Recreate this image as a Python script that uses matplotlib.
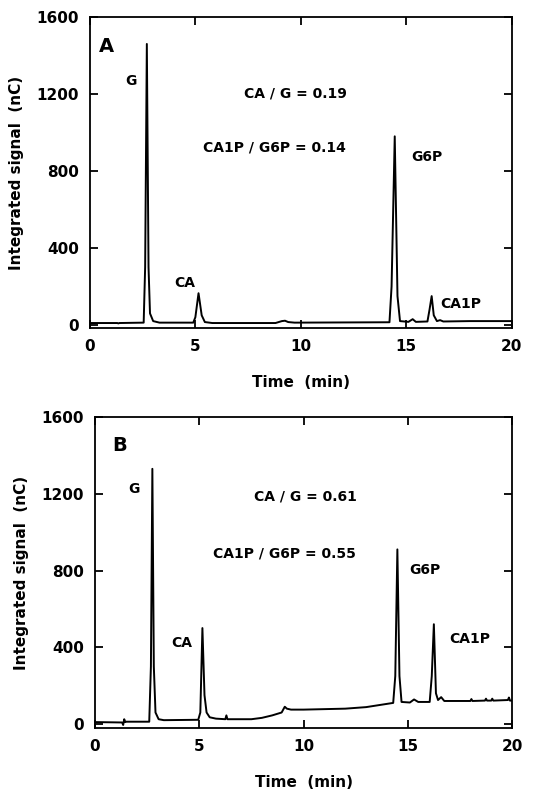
import matplotlib
matplotlib.use("Agg")
import matplotlib.pyplot as plt

# ---- Panel A trace (time in min, signal in nC) ----
time_a = [0, 1.3, 1.35, 1.4, 2.55, 2.62, 2.7, 2.78, 2.85, 3.0, 3.3, 4.9, 5.0, 5.15, 5.3, 5.45, 5.8,
          8.8, 9.1, 9.25, 9.4, 9.7, 14.2, 14.3, 14.45, 14.58, 14.7, 15.1, 15.3, 15.45, 16.0, 16.1,
          16.2, 16.3, 16.45, 16.6, 16.75, 18, 20]
signal_a = [10, 10, 8, 10, 12, 300, 1460, 300, 60, 20, 12, 12, 40, 165, 50, 15, 10,
            10, 20, 22, 15, 12, 14, 200, 980, 150, 20, 16, 30, 16, 18, 80,
            150, 50, 20, 25, 18, 20, 20]

# ---- Panel B trace ----
time_b = [0, 1.3, 1.35, 1.4, 1.45, 1.5, 2.6, 2.68, 2.75, 2.82, 2.9, 3.05, 3.3, 4.95, 5.05, 5.15, 5.25,
          5.35, 5.5, 5.8, 6.25, 6.3, 6.35, 7.5, 8.0, 8.5, 8.95, 9.1, 9.2, 9.4, 10, 12, 13, 14.3, 14.4,
          14.5, 14.6, 14.7, 15.1, 15.3, 15.5, 16.05, 16.15, 16.25, 16.35, 16.45, 16.6, 16.75, 18,
          18.05, 18.1, 18.7, 18.75, 18.8, 19, 19.05, 19.1, 19.8, 19.85, 19.9, 20]
signal_b = [10, 8, -5, 25, 10, 12, 12, 300, 1330, 300, 60, 25, 20, 22, 60, 500, 150,
            60, 35, 28, 25, 45, 25, 25, 32, 45, 60, 90, 80, 75, 75, 80, 88, 110, 250,
            910, 250, 115, 112, 128, 115, 115, 250, 520, 160, 125, 140, 120, 120,
            130, 120, 122, 132, 122, 122, 132, 122, 125, 138, 122, 122]

x_ticks = [0, 5, 10, 15, 20]
y_ticks = [0, 400, 800, 1200, 1600]

labels_a = [("A", 0.45, 1445), ("G", 1.95, 1268), ("CA / G = 0.19", 9.76, 1205),
            ("CA1P / G6P = 0.14", 8.77, 920), ("G6P", 15.97, 873), ("CA", 4.5, 218),
            ("CA1P", 17.6, 109)]
labels_b = [("B", 0.85, 1454), ("G", 1.87, 1225), ("CA / G = 0.61", 10.07, 1188),
            ("CA1P / G6P = 0.55", 9.1, 891), ("G6P", 15.8, 802), ("CA", 4.14, 422),
            ("CA1P", 17.95, 443)]

plt.rcParams['font.family'] = ['DejaVu Sans']
plt.rcParams['font.weight'] = 'bold'

fig = plt.figure(figsize=(5.48, 7.91), dpi=100)
ax_a = fig.add_axes([0.164, 0.5853, 0.770, 0.3932])
ax_b = fig.add_axes([0.1734, 0.0796, 0.761, 0.3932])

for ax, t, s, labels, ybot in [(ax_a, time_a, signal_a, labels_a, -16),
                               (ax_b, time_b, signal_b, labels_b, -21)]:
    ax.plot(t, s, color='black', lw=1.4, solid_joinstyle='round')
    ax.set_xlim(0, 20)
    ax.set_ylim(ybot, 1600)
    ax.set_xticks(x_ticks)
    ax.set_yticks(y_ticks)
    ax.tick_params(direction='in', length=6, width=1.3, top=True, right=True,
                   labelsize=11, pad=8)
    for lab in ax.get_xticklabels() + ax.get_yticklabels():
        lab.set_fontweight('bold')
    for sp in ax.spines.values():
        sp.set_linewidth(1.3)
    ax.set_xlabel("Time  (min)", fontsize=11, fontweight='bold', labelpad=15)
    ax.set_ylabel("Integrated signal  (nC)", fontsize=11, fontweight='bold', labelpad=9)
    for txt, x, y in labels:
        if txt in ("A", "B"):
            ax.text(x, y, txt, fontsize=14, fontweight='bold', ha='left', va='center')
        else:
            ax.text(x, y, txt, fontsize=10, fontweight='bold', ha='center', va='center')

fig.savefig("out.png", dpi=100)
